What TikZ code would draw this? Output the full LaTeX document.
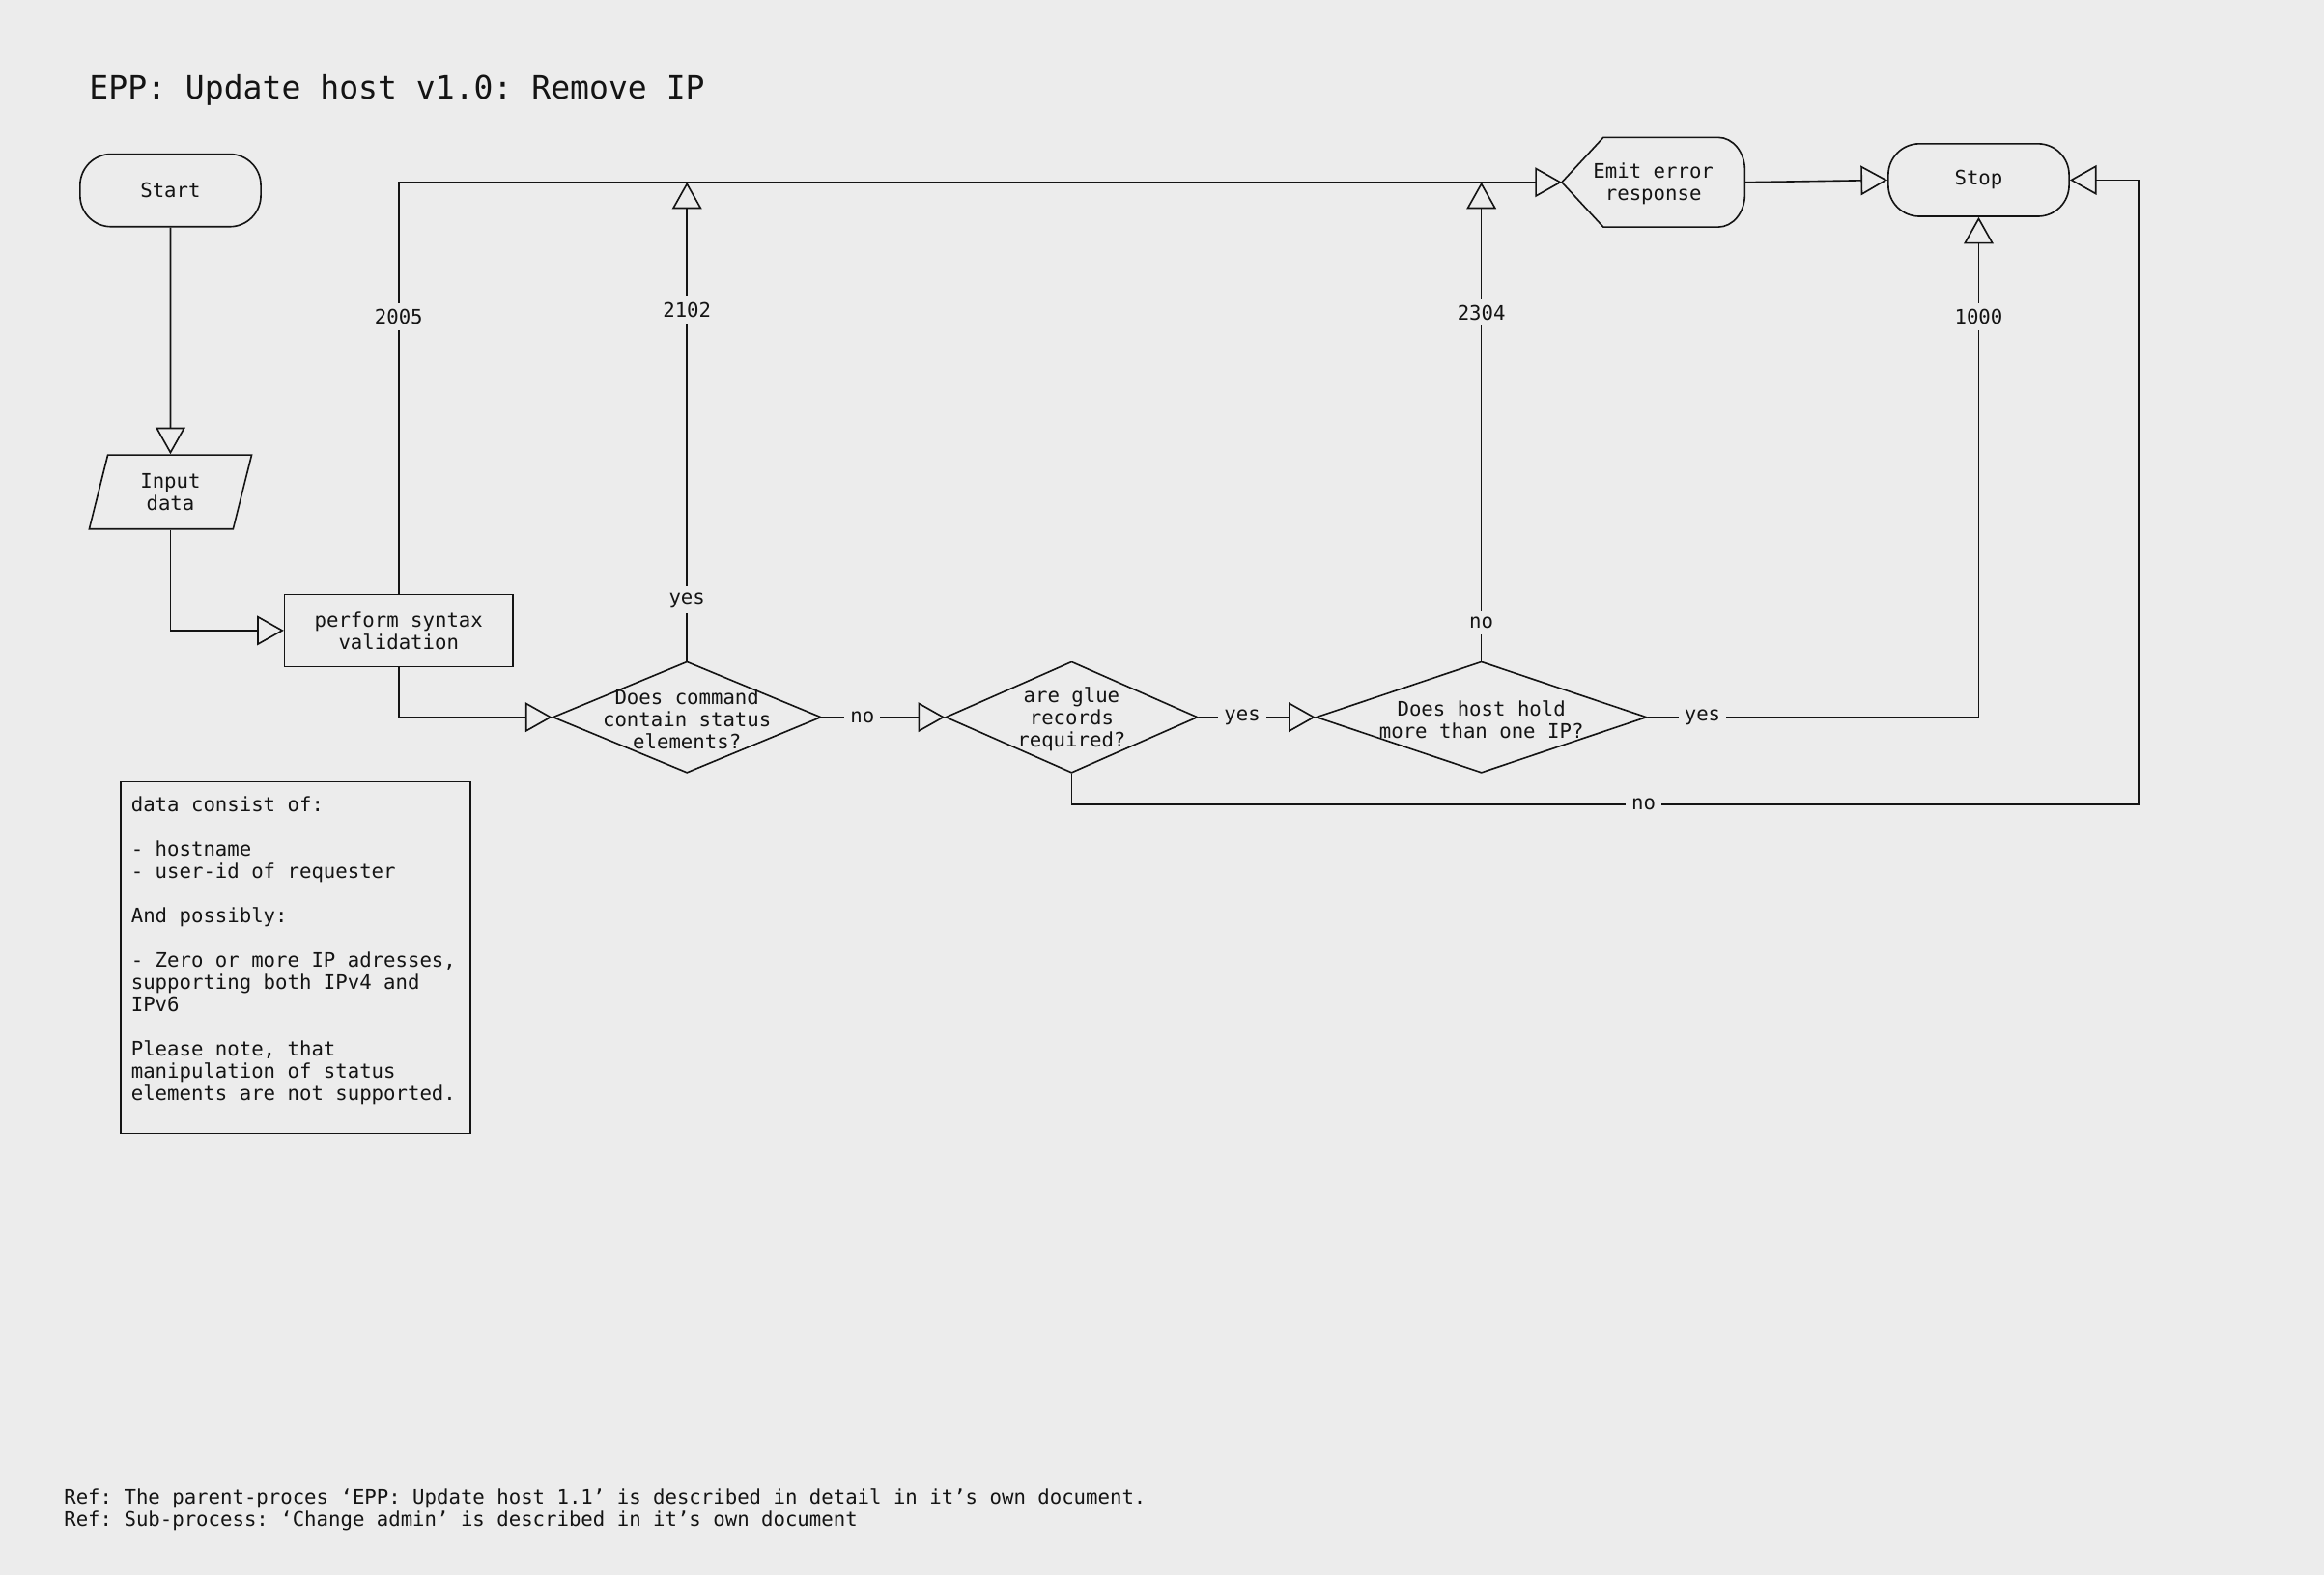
\documentclass[tikz,border=0pt]{standalone}
\usepackage{fontspec}
\setmonofont{DejaVu Sans Mono}
\usetikzlibrary{arrows.meta,shapes.geometric,calc}

\definecolor{bgcol}{RGB}{236,236,236}
\definecolor{ink}{RGB}{20,20,20}
\newcommand{\px}{0.3mm}

\tikzset{
    txt/.style={font=\ttfamily\fontsize{11.5pt}{12.8pt}\selectfont, text=ink, align=center, inner sep=0pt},
    base/.style={txt, draw=ink, line width=0.9pt},
    term/.style={base, rectangle, rounded corners=21*\px, minimum width=122*\px, minimum height=49*\px},
    io/.style={base, trapezium, trapezium left angle=76.5, trapezium right angle=103.5, trapezium stretches=true, minimum width=110*\px, minimum height=50*\px},
    proc/.style={base, rectangle, minimum width=154*\px, minimum height=49*\px},
    dec/.style={base, diamond, minimum height=75*\px},
    flow/.style={draw=ink, line width=0.9pt, -{Triangle[open, length=5.4mm, width=6mm]}},
    line/.style={draw=ink, line width=0.9pt},
    lbl/.style={txt, fill=bgcol, inner sep=4*\px},
}

\begin{document}
\begin{tikzpicture}[x=\px, y=-\px]

    % 背景
    \fill[bgcol] (0,0) rectangle (1568,1063);
    \useasboundingbox (0,0) rectangle (1568,1063);

    % 見出し
    \node[txt, font=\ttfamily\fontsize{18.4pt}{20pt}\selectfont, anchor=base west] (title) at (60,67) {EPP: Update host v1.0: Remove IP};

    % ノードの定義
    \node[term] (start) at (115,128.5) {Start};
    \node[io] (input) at (115,332) {Input\\data};
    \node[proc] (valid) at (269,425.5) {perform syntax\\validation};

    \node[dec, minimum width=181*\px, label={[txt, yshift=-1.5*\px]center:Does command\\contain status\\elements?}] (d1) at (463.5,484) {};
    \node[dec, minimum width=170*\px, label={[txt, yshift=-1.5*\px]center:are glue\\records\\required?}] (d2) at (723,484) {};
    \node[dec, minimum width=223*\px, label={[txt, yshift=-1.5*\px]center:Does host hold\\more than one IP?}] (d3) at (999.5,484) {};

    \node[txt, minimum width=123*\px, minimum height=60*\px, text depth=1pt] (emit) at (1115.5,123) {Emit error\\response};
    \draw[line] (emit.west) -- ([xshift=28*\px]emit.north west)
        -- ([xshift=-18*\px]emit.north east) arc[start angle=90, end angle=0, x radius=18*\px, y radius=22*\px]
        -- ([yshift=22*\px]emit.south east) arc[start angle=0, end angle=-90, x radius=18*\px, y radius=22*\px]
        -- ([xshift=28*\px]emit.south west) -- cycle;
    \node[term, minimum height=49*\px] (stop) at (1335,121.5) {Stop};

    \node[base, align=left, anchor=north west, text width=66.6mm, inner xsep=7*\px, inner ysep=10*\px] (note) at (81,527)
        {\spaceskip=\fontdimen2\font\xspaceskip=\fontdimen2\font
         data consist of:\\[12.8pt]
         - hostname\\
         - user-id of requester\\[12.8pt]
         And possibly:\\[12.8pt]
         - Zero or more IP adresses,\\
         supporting both IPv4 and\\
         IPv6\\[12.8pt]
         Please note, that\\
         manipulation of status\\
         elements are not supported.\\[-2.6pt]
         \mbox{}};

    \node[txt, align=left, anchor=base west] (ref) at (43,1030)
        {Ref: The parent-proces ‘EPP: Update host 1.1’ is described in detail in it’s own document.\\
         Ref: Sub-process: ‘Change admin’ is described in it’s own document};

    % 合流点
    \coordinate (j1) at (d1.north |- emit.west);
    \coordinate (j2) at (d3.north |- emit.west);

    % 線の描画
    \draw[flow] (start) -- (input);
    \draw[flow] (input.south) |- (valid.west);
    \draw[flow] (valid.north) |- node[lbl, pos=.336] {2005} (emit.west);
    \draw[flow] (valid.south) |- (d1.west);

    \draw[flow] (d1.north) -- node[lbl, pos=.127] {yes} node[lbl, pos=.734] {2102} (j1);
    \draw[flow] (d1.east) -- node[lbl, pos=.33] {no} (d2.west);
    \draw[flow] (d2.east) -- node[lbl, pos=.375] {yes} (d3.west);
    \draw[flow] (d3.north) -- node[lbl, pos=.08] {no} node[lbl, pos=.728] {2304} (j2);
    \draw[flow] (d3.east) -| node[lbl, pos=.083] {yes} node[lbl, pos=.9] {1000} (stop.south);
    \draw[flow] (d2.south) -- ++(0,21) -- node[lbl, pos=.536] {no} ++(720,0) |- (stop.east);

    \draw[flow] (emit.east) -- (stop.west);

\end{tikzpicture}
\end{document}
